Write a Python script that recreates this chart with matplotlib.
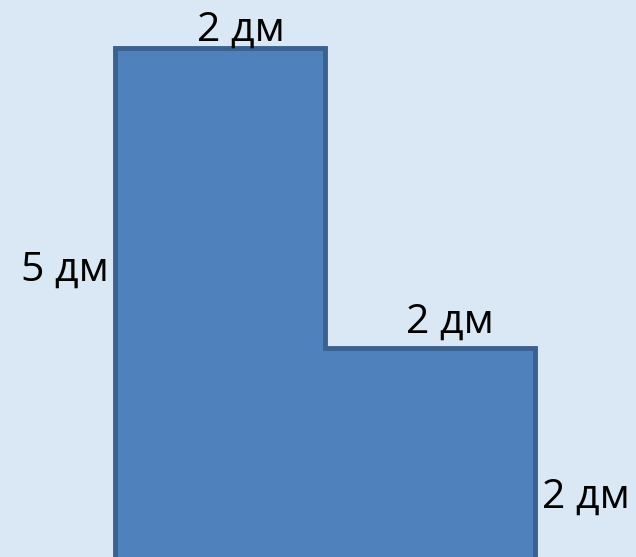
import matplotlib
matplotlib.use('Agg')
import matplotlib.pyplot as plt
from matplotlib.patches import Polygon

# Контур фигуры (в пикселях картинки)
shape_x = [115, 115, 325, 325, 535, 535]
shape_y = [570, 48, 48, 348, 348, 570]

# Подписи сторон
labels = ['2 дм', '5 дм', '2 дм', '2 дм']
label_x = [241, 65, 450, 586]
label_y = [30, 270, 322, 497]

W, H = 636, 557
fig = plt.figure(figsize=(W / 100, H / 100), dpi=100)
fig.patch.set_facecolor('#dae7f4')
ax = fig.add_axes([0, 0, 1, 1])
ax.set_facecolor('#dae7f4')
ax.set_xlim(0, W)
ax.set_ylim(H, 0)
ax.axis('off')

poly = Polygon(list(zip(shape_x, shape_y)), closed=True,
               facecolor='#4f81bd', edgecolor='#3a6190', linewidth=3.5, joinstyle='miter')
ax.add_patch(poly)

for txt, x, y in zip(labels, label_x, label_y):
    ax.text(x, y, txt, fontsize=29.5, family='Open Sans', color='black',
            ha='center', va='center')

fig.savefig('out.png', dpi=100, facecolor=fig.get_facecolor())
